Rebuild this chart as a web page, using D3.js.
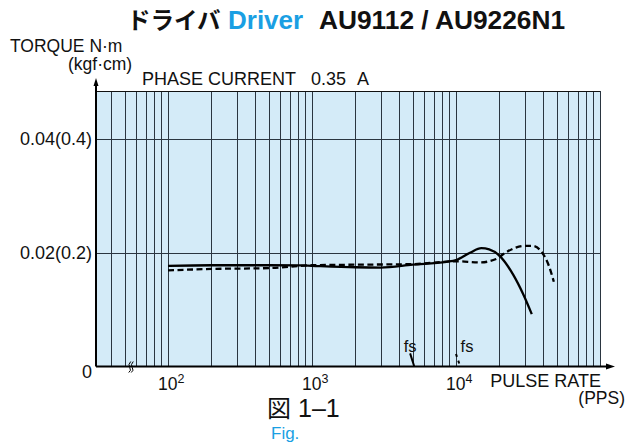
<!DOCTYPE html>
<html><head><meta charset="utf-8">
<script src="https://cdn.jsdelivr.net/npm/d3@7"></script>
<style>
body{margin:0;background:#fff}
svg{display:block}
text{font-family:"Liberation Sans",Arial,Helvetica,sans-serif;fill:#111}
.cjk{font-family:"Noto Sans CJK JP","Liberation Sans",sans-serif}
</style></head>
<body><svg id="c" width="627" height="444"></svg>
<script>
// ---- data ----
const yTicks = [0, 0.02, 0.04];
const yTickLabels = ["0", "0.02(0.2)", "0.04(0.4)"];
const xTickExps = [2, 3, 4];
const xGrid = [40,50,60,70,80,90,100,200,300,400,500,600,700,800,900,
  1000,2000,3000,4000,5000,6000,7000,8000,9000,
  10000,20000,30000,40000,50000,60000,70000,80000,90000];
const solidFreq   = [100, 200, 500, 825, 1000, 2000, 3000, 5000, 8600, 10000, 12500, 15000, 17000, 20000, 25000, 29300, 33600];
const solidTorque = [0.0177, 0.0178, 0.0178, 0.01778, 0.0177, 0.01745, 0.0174, 0.0179, 0.0184, 0.0187, 0.0200, 0.0208, 0.0206, 0.0195, 0.0161, 0.0127, 0.0092];
const dashFreq    = [100, 200, 500, 1000, 2000, 5000, 10000, 14700, 19000, 22000, 26000, 30000, 34000, 39700, 44000, 47800];
const dashTorque  = [0.0169, 0.01715, 0.0173, 0.0178, 0.0179, 0.0180, 0.0185, 0.0183, 0.0189, 0.0200, 0.0209, 0.0212, 0.0212, 0.0200, 0.0178, 0.0149];
const fsSolidFreq = [4800, 5130], fsSolidTorque = [0.0023, 0];
const fsDashFreq  = [10000, 10700], fsDashTorque = [0.0022, 0];

// ---- scales ----
const svg = d3.select("#c");
const x = d3.scaleLog().domain([Math.pow(10,1.5), 1e5]).range([96, 600]);
const y = d3.scaleLinear().domain([0, 0.04]).range([366.5, 139]);
const yTop = 91;
const x0 = x.range()[0], x1 = x.range()[1];
const px = v => Math.round(v) + 0.5;

// background
svg.append("rect").attr("x", x0).attr("y", yTop).attr("width", x1 - x0).attr("height", y(0) - yTop)
  .attr("fill", "#d4ebf8");

// vertical gridlines
svg.append("g").selectAll("line").data(xGrid).join("line")
  .attr("x1", d => px(x(d))).attr("x2", d => px(x(d))).attr("y1", yTop).attr("y2", y(0))
  .attr("stroke", "#2a3540").attr("stroke-width", 1);
// right border
svg.append("line").attr("x1", px(x1)).attr("x2", px(x1)).attr("y1", yTop).attr("y2", y(0))
  .attr("stroke", "#2a3540").attr("stroke-width", 1);
// horizontal gridlines
svg.append("g").selectAll("line").data(yTicks.filter(d => d > 0)).join("line")
  .attr("x1", x0).attr("x2", x1).attr("y1", d => px(y(d))).attr("y2", d => px(y(d)))
  .attr("stroke", "#2a3540").attr("stroke-width", 1);
// top border
svg.append("line").attr("x1", x0).attr("x2", x1).attr("y1", yTop + 0.5).attr("y2", yTop + 0.5)
  .attr("stroke", "#111").attr("stroke-width", 1);

// axes
svg.append("line").attr("x1", x0).attr("x2", x0).attr("y1", y(0)).attr("y2", 84)
  .attr("stroke", "#000").attr("stroke-width", 2);
svg.append("path").attr("d", `M${x0},78 L${x0-2.5},86 L${x0+2.5},86 Z`).attr("fill", "#000");
svg.append("line").attr("x1", x0).attr("x2", 608).attr("y1", y(0)).attr("y2", y(0))
  .attr("stroke", "#000").attr("stroke-width", 2);
svg.append("path").attr("d", `M615,${y(0)} L606,${y(0)-3} L606,${y(0)+3} Z`).attr("fill", "#000");

// break mark
const bx = x(56), by = y(0);
[0, 2.5].forEach(o => {
  svg.append("path").attr("d", `M${bx-3+o},${by+6} q3,-2 1,-5 q-2,-3 1,-6`)
    .attr("fill", "none").attr("stroke", "#000").attr("stroke-width", 1);
});

// y tick labels
svg.append("g").selectAll("text").data(yTicks).join("text")
  .attr("x", 92).attr("y", (d) => y(d) + (d === 0 ? 5 : 0))
  .attr("dy", "0.36em").attr("text-anchor", "end").attr("font-size", 18)
  .text((d, i) => yTickLabels[i]);

// x tick labels
const xl = svg.append("g").selectAll("text").data(xTickExps).join("text")
  .attr("x", d => x(Math.pow(10, d)) - 10).attr("y", 390).attr("font-size", 17.5);
xl.append("tspan").text("10");
xl.append("tspan").attr("dy", -7).attr("font-size", 12.5).text(d => d);

// curves
const line = d3.line().x(d => x(d[0])).y(d => y(d[1])).curve(d3.curveMonotoneX);
svg.append("path").datum(d3.zip(solidFreq, solidTorque)).attr("d", line)
  .attr("fill", "none").attr("stroke", "#000").attr("stroke-width", 2.3);
svg.append("path").datum(d3.zip(dashFreq, dashTorque)).attr("d", line)
  .attr("fill", "none").attr("stroke", "#000").attr("stroke-width", 2.3).attr("stroke-dasharray", "6,3.5");
const lin = d3.line().x(d => x(d[0])).y(d => y(d[1]));
svg.append("path").datum(d3.zip(fsSolidFreq, fsSolidTorque)).attr("d", lin)
  .attr("fill", "none").attr("stroke", "#000").attr("stroke-width", 2);
svg.append("path").datum(d3.zip(fsDashFreq, fsDashTorque)).attr("d", lin)
  .attr("fill", "none").attr("stroke", "#000").attr("stroke-width", 2).attr("stroke-dasharray", "3,4");
svg.append("text").attr("x", x(fsSolidFreq[0])).attr("y", 352).attr("text-anchor", "middle").attr("font-size", 16.5).text("fs");
svg.append("text").attr("x", x(fsDashFreq[0]) + 11).attr("y", 352).attr("text-anchor", "middle").attr("font-size", 16.5).text("fs");

// axis titles
svg.append("text").attr("x", 10).attr("y", 52).attr("font-size", 17.5).text("TORQUE N·m");
svg.append("text").attr("x", 68).attr("y", 70).attr("font-size", 17.5).text("(kgf·cm)");
svg.append("text").attr("x", 142).attr("y", 85).attr("font-size", 18).text("PHASE CURRENT");
svg.append("text").attr("x", 311).attr("y", 85).attr("font-size", 18).text("0.35");
svg.append("text").attr("x", 357).attr("y", 85).attr("font-size", 18).text("A");
svg.append("text").attr("x", 601).attr("y", 387).attr("text-anchor", "end").attr("font-size", 18).text("PULSE RATE");
svg.append("text").attr("x", 625).attr("y", 404).attr("text-anchor", "end").attr("font-size", 17.5).text("(PPS)");

// title
svg.append("text").attr("class", "cjk").attr("x", 127).attr("y", 29).attr("font-size", 23.5).attr("font-weight", "bold").text("ドライバ");
svg.append("text").attr("x", 228).attr("y", 29).attr("font-size", 26).attr("font-weight", "bold").style("fill", "#1a9fe3").text("Driver");
svg.append("text").attr("x", 319).attr("y", 29).attr("font-size", 26.3).attr("font-weight", "bold").text("AU9112 / AU9226N1");

// caption
svg.append("text").attr("class", "cjk").attr("x", 267).attr("y", 417).attr("font-size", 24).text("図");
svg.append("text").attr("x", 298).attr("y", 417).attr("font-size", 25).text("1–1");
svg.append("text").attr("x", 271).attr("y", 439).attr("font-size", 17).style("fill", "#1a9fe3").text("Fig.");
</script></body></html>
